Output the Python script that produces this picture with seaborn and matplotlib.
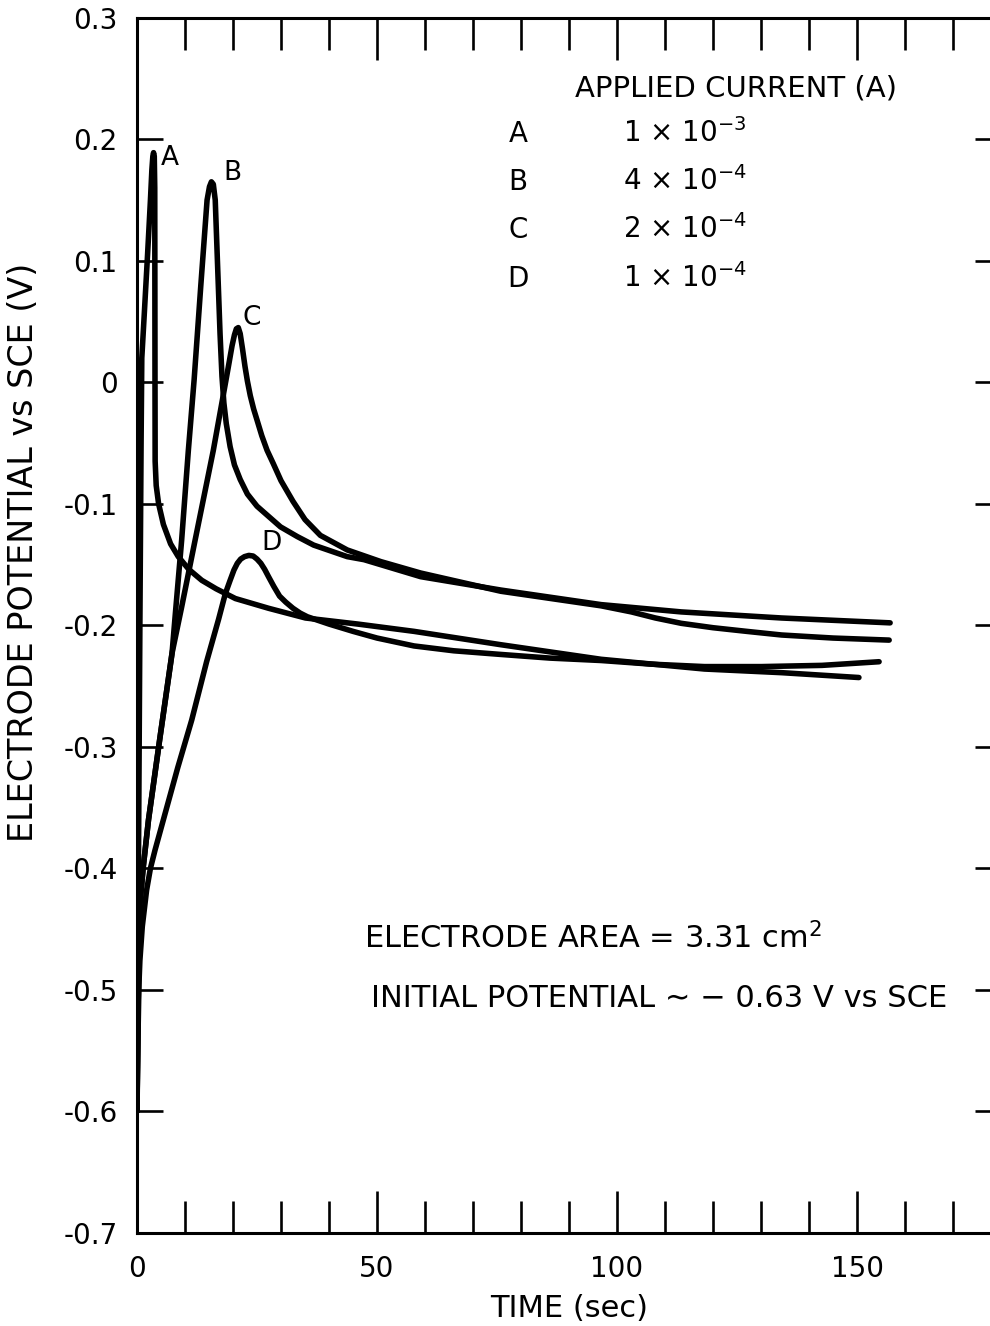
import matplotlib
matplotlib.use("Agg")
import matplotlib.pyplot as plt
from matplotlib.ticker import FixedLocator, FixedFormatter, MultipleLocator
import pandas as pd
import seaborn as sns

# ---------------- data ----------------
A_t = [0.0, 0.3, 0.6, 0.85, 1.0, 1.5, 2.2, 2.8, 3.1, 3.3, 3.45, 3.6, 3.7, 3.75, 3.78,
       4.0, 4.5, 5.5, 7.0, 8.6, 10.8, 13.5, 16.5, 20.5, 27.4, 35.1, 46.0, 57.7, 75.8,
       96.7, 118.2, 134.3, 150.4]
A_E = [-0.60, -0.40, -0.20, -0.05, 0.02, 0.055, 0.105, 0.15, 0.175, 0.186, 0.189,
       0.186, 0.16, 0.0, -0.065, -0.085, -0.100, -0.117, -0.133, -0.1435, -0.154,
       -0.163, -0.170, -0.178, -0.186, -0.194, -0.199, -0.205, -0.216, -0.228,
       -0.236, -0.239, -0.243]

B_t = [0.0, 0.2, 0.6, 1.3, 2.4, 4.8, 7.3, 8.0, 9.3, 10.7, 11.9, 13.3, 14.6, 15.1,
       15.5, 15.9, 16.3, 16.8, 17.3, 17.7, 18.1, 18.6, 19.4, 20.3, 21.5, 23.0, 25.0,
       29.9, 33.4, 36.8, 43.8, 47.3, 59.1, 75.8, 96.7, 113.4, 134.3, 156.9]
B_E = [-0.60, -0.52, -0.43, -0.399, -0.36, -0.292, -0.223, -0.190, -0.13, -0.056,
       0.002, 0.08, 0.15, 0.161, 0.165, 0.163, 0.15, 0.095, 0.04, 0.005, -0.017,
       -0.034, -0.053, -0.068, -0.080, -0.092, -0.102, -0.119, -0.127, -0.134,
       -0.1435, -0.146, -0.160, -0.171, -0.183, -0.189, -0.194, -0.198]

C_t = [0.0, 0.2, 0.6, 1.3, 2.4, 4.8, 7.3, 9.3, 12.0, 15.9, 18.0, 19.0, 19.8, 20.3,
       20.7, 21.1, 21.5, 22.0, 22.5, 23.0, 23.6, 24.3, 25.0, 26.0, 27.1, 28.4, 30.0,
       32.5, 35.0, 38.2, 43.8, 50.8, 59.1, 75.8, 96.7, 103.0, 108.0, 113.4, 120.0,
       127.0, 134.3, 145.0, 156.7]
C_E = [-0.60, -0.52, -0.43, -0.399, -0.36, -0.292, -0.223, -0.185, -0.132, -0.056,
       -0.010, 0.012, 0.030, 0.039, 0.044, 0.045, 0.040, 0.027, 0.013, 0.001,
       -0.011, -0.022, -0.031, -0.044, -0.056, -0.067, -0.081, -0.098, -0.113,
       -0.126, -0.138, -0.1476, -0.157, -0.172, -0.184, -0.189, -0.194, -0.1984,
       -0.202, -0.205, -0.208, -0.2105, -0.2122]

D_t = [0.0, 0.2, 0.4, 0.6, 1.1, 2.0, 2.8, 3.76, 5.5, 8.5, 11.4, 14.5, 17.0, 18.4,
       19.4, 20.2, 20.9, 21.6, 22.4, 23.3, 24.2, 25.0, 25.8, 26.6, 27.4, 28.5, 29.7,
       31.0, 32.5, 34.0, 35.5, 37.0, 40.0, 45.0, 50.0, 57.7, 66.0, 75.8, 86.0, 96.7,
       107.2, 118.2, 130.1, 142.7, 154.6]
D_E = [-0.60, -0.54, -0.496, -0.476, -0.448, -0.418, -0.40, -0.385, -0.36, -0.317,
       -0.278, -0.23, -0.195, -0.174, -0.163, -0.1545, -0.149, -0.1455, -0.1435,
       -0.1425, -0.143, -0.1455, -0.149, -0.154, -0.160, -0.168, -0.176, -0.181,
       -0.186, -0.190, -0.193, -0.195, -0.199, -0.205, -0.2105, -0.217, -0.221,
       -0.224, -0.227, -0.229, -0.232, -0.234, -0.234, -0.233, -0.230]

curve_names = ["A", "B", "C", "D"]
applied_current = [r"1 × 10$^{-3}$", r"4 × 10$^{-4}$", r"2 × 10$^{-4}$", r"1 × 10$^{-4}$"]

x_major = [0, 50, 100, 150]
x_labels = ["0", "50", "100", "150"]
y_ticks = [-0.7, -0.6, -0.5, -0.4, -0.3, -0.2, -0.1, 0.0, 0.1, 0.2, 0.3]
y_labels = ["-0.7", "-0.6", "-0.5", "-0.4", "-0.3", "-0.2", "-0.1", "0", "0.1", "0.2", "0.3"]

curve_label_pos = {"A": (6.9, 0.185), "B": (19.8, 0.172), "C": (23.8, 0.053), "D": (28.1, -0.1325)}

# ---------------- build table ----------------
series = {"A": (A_t, A_E), "B": (B_t, B_E), "C": (C_t, C_E), "D": (D_t, D_E)}
rows = []
for name, (ts, es) in series.items():
    for i, (t, e) in enumerate(zip(ts, es)):
        rows.append({"curve": name, "order": i, "time": t, "potential": e})
df = pd.DataFrame(rows)

# ---------------- style ----------------
sns.set_theme(style="ticks")
plt.rcParams["font.family"] = ["DejaVu Sans"]
plt.rcParams["mathtext.default"] = "regular"
for key in ["text.color", "axes.labelcolor", "xtick.color", "ytick.color", "axes.edgecolor"]:
    plt.rcParams[key] = "black"

fig = plt.figure(figsize=(9.9, 13.26), dpi=100)
ax = fig.add_axes([137 / 990, 0.0703, 864 / 990, 0.91629])

for name in curve_names:
    sub = df[df["curve"] == name]
    sns.lineplot(data=sub, x="time", y="potential", sort=False, estimator=None,
                 color="black", linewidth=4.0, ax=ax, legend=False,
                 solid_capstyle="round", solid_joinstyle="round")

ax.set_xlim(0, 180)
ax.set_ylim(-0.7, 0.3)

ax.xaxis.set_major_locator(FixedLocator(x_major))
ax.xaxis.set_major_formatter(FixedFormatter(x_labels))
ax.xaxis.set_minor_locator(MultipleLocator(10))
ax.yaxis.set_major_locator(FixedLocator(y_ticks))
ax.yaxis.set_major_formatter(FixedFormatter(y_labels))

ax.tick_params(axis="x", which="major", direction="in", length=30, width=1.9,
               top=True, bottom=True, pad=16, labelsize=20)
ax.tick_params(axis="x", which="minor", direction="in", length=23, width=1.9,
               top=True, bottom=True)
ax.tick_params(axis="y", which="major", direction="in", length=19, width=1.9,
               left=True, right=True, pad=14, labelsize=20)

for sp in ax.spines.values():
    sp.set_linewidth(2.2)
    sp.set_color("black")

ax.set_xlabel("TIME (sec)", fontsize=22, labelpad=8)
ax.set_ylabel("ELECTRODE POTENTIAL vs SCE (V)", fontsize=24)
ax.yaxis.set_label_coords(-0.112, 0.56)

# curve labels
for name in curve_names:
    x, y = curve_label_pos[name]
    ax.text(x, y, name, fontsize=19, ha="center", va="center")

# legend block
ax.text(124.7, 0.2348, "APPLIED CURRENT (A)", fontsize=21, ha="center", va="baseline")
row_y = [0.1977, 0.1582, 0.1187, 0.0785]
for name, cur, yy in zip(curve_names, applied_current, row_y):
    ax.text(79.4, yy, name, fontsize=20, ha="center", va="baseline")
    ax.text(101.3, yy, cur, fontsize=20, ha="left", va="baseline")

ax.text(47.2, -0.4656, r"ELECTRODE AREA = 3.31 cm$^{2}$", fontsize=22, ha="left", va="baseline")
ax.text(48.7, -0.5142, "INITIAL POTENTIAL ∼ − 0.63 V vs SCE", fontsize=22, ha="left", va="baseline")

fig.savefig("out.png", dpi=100, facecolor="white")
